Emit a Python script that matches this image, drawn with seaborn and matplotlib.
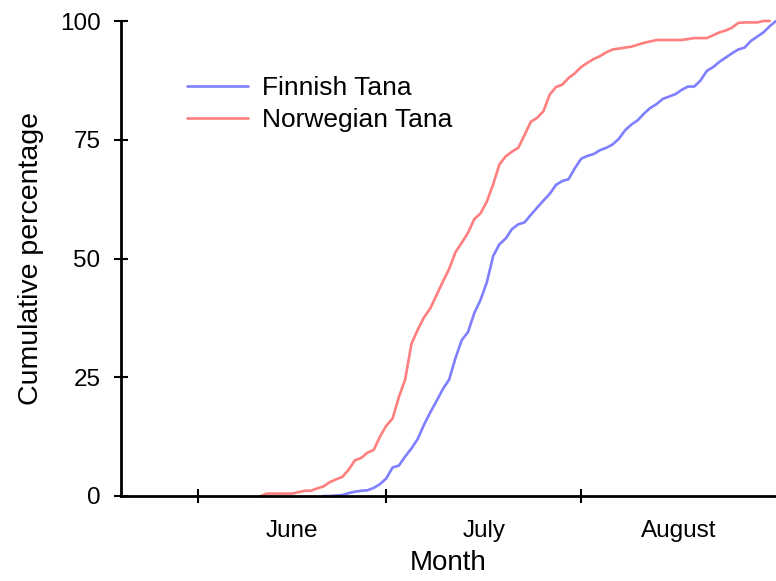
import numpy as np
import pandas as pd
import seaborn as sns
import matplotlib.pyplot as plt
from matplotlib.ticker import FixedLocator, NullFormatter, FixedFormatter

# daily cumulative percentages, x = day of year
nor_start = 162
nor_pct = [0, 0.5, 0.5, 0.5, 0.5, 0.5, 0.8, 1.1, 1.1, 1.6,
           2.0, 2.9, 3.5, 4.0, 5.5, 7.5, 8.0, 9.1, 9.7, 12.5,
           14.8, 16.3, 20.8, 24.5, 32.0, 35.0, 37.6, 39.5, 42.3, 45.1,
           47.8, 51.3, 53.3, 55.4, 58.3, 59.5, 62.0, 65.6, 69.8, 71.5,
           72.5, 73.3, 76.0, 78.8, 79.6, 81.0, 84.5, 86.1, 86.6, 88.0,
           89.0, 90.3, 91.2, 92.0, 92.6, 93.4, 94.0, 94.2, 94.4, 94.6,
           95.0, 95.4, 95.7, 96.0, 96.0, 96.0, 96.0, 96.0, 96.2, 96.4,
           96.4, 96.4, 97.0, 97.6, 98.0, 98.6, 99.6, 99.7, 99.7, 99.7,
           100, 100]

fin_start = 172
fin_pct = [0, 0, 0.1, 0.2, 0.6, 0.9, 1.1, 1.2, 1.7, 2.5,
           3.7, 6.0, 6.4, 8.3, 10.0, 12.0, 15.0, 17.6, 20.0, 22.5,
           24.5, 29.0, 32.8, 34.5, 38.5, 41.3, 45.0, 50.5, 53.0, 54.2,
           56.2, 57.2, 57.6, 59.2, 60.7, 62.2, 63.6, 65.5, 66.3, 66.7,
           69.0, 71.0, 71.6, 72.0, 72.8, 73.3, 74.0, 75.2, 77.0, 78.2,
           79.1, 80.5, 81.7, 82.5, 83.6, 84.1, 84.6, 85.5, 86.2, 86.2,
           87.5, 89.5, 90.3, 91.4, 92.3, 93.2, 94.0, 94.4, 95.8, 96.7,
           97.6, 98.9, 100]

month_starts = [152, 182, 213]
month_mids = [167, 197.5, 228.5]
month_names = ["June", "July", "August"]
y_ticks = [0, 25, 50, 75, 100]

sns.set_theme(style="white")
plt.rcParams["font.family"] = ["Liberation Sans", "DejaVu Sans"]
plt.rcParams["text.color"] = "black"
plt.rcParams["axes.labelcolor"] = "black"
plt.rcParams["xtick.color"] = "black"
plt.rcParams["ytick.color"] = "black"

df = pd.concat([
    pd.DataFrame({"day": np.arange(fin_start, fin_start + len(fin_pct)),
                  "pct": fin_pct, "river": "Finnish Tana"}),
    pd.DataFrame({"day": np.arange(nor_start, nor_start + len(nor_pct)),
                  "pct": nor_pct, "river": "Norwegian Tana"}),
])

fig = plt.figure(figsize=(7.76, 5.81), dpi=100)
ax = fig.add_axes([121 / 776, 85 / 581, 655 / 776, 475 / 581])

sns.lineplot(data=df, x="day", y="pct", hue="river",
             palette={"Finnish Tana": "#7f7fff", "Norwegian Tana": "#ff7f7f"},
             linewidth=1.9, ax=ax, clip_on=False)

ax.set_xlim(139.8, 244)
ax.set_ylim(0, 100)

for side in ["top", "right"]:
    ax.spines[side].set_visible(False)
for side in ["left", "bottom"]:
    ax.spines[side].set_color("black")
    ax.spines[side].set_linewidth(2)

ax.set_yticks(y_ticks)
ax.tick_params(axis="y", left=True, direction="inout", length=9.5, width=1.5,
               color="black", labelcolor="black", labelsize=17.5, pad=10)
ax.xaxis.set_major_locator(FixedLocator(month_starts))
ax.xaxis.set_major_formatter(NullFormatter())
ax.xaxis.set_minor_locator(FixedLocator(month_mids))
ax.xaxis.set_minor_formatter(FixedFormatter(month_names))
ax.tick_params(axis="x", which="major", bottom=True, direction="inout",
               length=10, width=1.5, color="black")
ax.tick_params(axis="x", which="minor", bottom=True, length=0,
               labelsize=17.5, labelcolor="black", pad=17)

ax.set_xlabel("Month", fontsize=20, labelpad=6, color="black")
ax.set_ylabel("Cumulative percentage", fontsize=20.5, labelpad=11, color="black")

handles, labels = ax.get_legend_handles_labels()
leg = ax.legend(handles, labels, loc="center left", bbox_to_anchor=(0.1008, 0.825),
                frameon=False, fontsize=19, borderpad=0, borderaxespad=0,
                handlelength=2.3, handletextpad=0.55, labelspacing=0.32)
for t in leg.get_texts():
    t.set_color("black")

plt.savefig("out.png", dpi=100)
